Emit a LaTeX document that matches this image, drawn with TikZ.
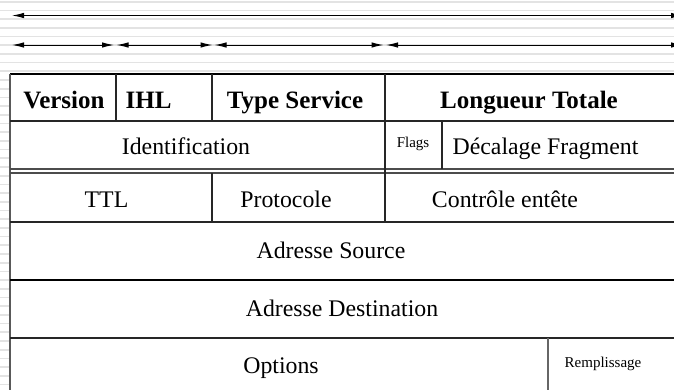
\documentclass[tikz,border=0pt]{standalone}
\usepackage{fontspec}
\setmainfont{Liberation Serif}
\usetikzlibrary{arrows.meta}
\begin{document}
\begin{tikzpicture}[x=1bp,y=-1bp,
  tline/.style={draw=black!85,line width=1.1bp},
  txt/.style={anchor=base,inner sep=0pt,font=\fontsize{23.8bp}{28bp}\selectfont},
  btxt/.style={anchor=base,inner sep=0pt,font=\fontsize{25bp}{30bp}\selectfont\bfseries},
  stxt/.style={anchor=base,inner sep=0pt,font=\fontsize{15bp}{18bp}\selectfont},
  dim/.style={draw=black,line width=1bp,{Latex[length=12bp,width=5.5bp]}-{Latex[length=12bp,width=5.5bp]}},
  stripe/.style={draw=black!11,line width=1.7bp}]
\useasboundingbox (0,0) rectangle (674,390);
\fill[white] (0,0) rectangle (674,390);
\begin{scope}
  \clip (0,0) -- (674,0) -- (674,74) -- (10,74) -- (10,390) -- (0,390) -- cycle;
  \foreach \k in {0,...,44} \draw[stripe] (0,{1.7+8.7*\k}) -- (674,{1.7+8.7*\k});
\end{scope}
% dimension arrows
\coordinate (t0) at (12,15.5);  \coordinate (t1) at (683,15.5);
\draw[dim] (t0) -- (t1);
\coordinate (a0) at (12,45);    \coordinate (a1) at (114,45);
\coordinate (b0) at (116.5,45); \coordinate (b1) at (212.5,45);
\coordinate (c0) at (214.5,45); \coordinate (c1) at (383.5,45);
\coordinate (d0) at (386,45);   \coordinate (d1) at (683,45);
\draw[dim] (a0) -- (a1);
\draw[dim] (b0) -- (b1);
\draw[dim] (c0) -- (c1);
\draw[dim] (d0) -- (d1);
% table lines
\draw[draw=black,line width=1.5bp] (10,74) -- (674,74);
\draw[draw=black!65,line width=2bp] (10,74) -- (10,390);
\draw[tline] (10,121) -- (674,121);
\draw[draw=black!70,line width=1.3bp] (10,169) -- (674,169);
\draw[draw=black!70,line width=1.3bp] (10,173) -- (674,173);
\draw[tline] (10,222) -- (674,222);
\draw[draw=black,line width=2.4bp] (10,280) -- (674,280);
\draw[tline] (10,338) -- (674,338);
\draw[tline] (116,74) -- (116,121);
\draw[tline] (212,74) -- (212,121);
\draw[tline] (212,173) -- (212,222);
\draw[tline] (385,74) -- (385,222);
\draw[tline] (442,121) -- (442,169);
\draw[draw=black!60,line width=1.3bp] (548,338) -- (548,390);
% texts
\node[btxt] (ver) at (64,108) {Version};
\node[btxt] (ihl) at (148.5,108) {IHL};
\node[btxt] (tos) at (295,108) {Type Service};
\node[btxt] (len) at (529,108) {Longueur Totale};
\node[txt] (id) at (186,154) {Identification};
\node[stxt] (flg) at (413,147) {Flags};
\node[txt] (frag) at (545.5,154) {Décalage Fragment};
\node[txt] (ttl) at (106.5,207) {TTL};
\node[txt] (prot) at (286,207) {Protocole};
\node[txt] (chk) at (505,207) {Contrôle entête};
\node[txt] (src) at (331,258) {Adresse Source};
\node[txt] (dst) at (342,316) {Adresse Destination};
\node[txt] (opt) at (281,373) {Options};
\node[stxt] (pad) at (603,367) {Remplissage};
\end{tikzpicture}
\end{document}
